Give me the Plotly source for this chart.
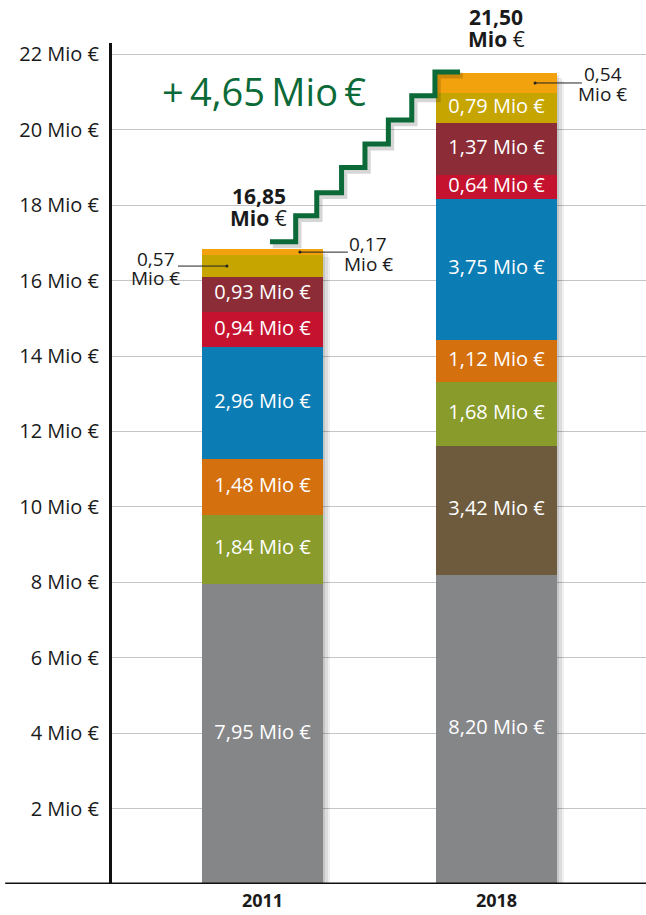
import plotly.graph_objects as go

years = ["2011", "2018"]
x_pos = [0, 1]
segment_names = ["Grau", "Braun", "Grün", "Orange", "Blau", "Rot", "Bordeaux", "Gelb", "Hellorange"]
segment_colors = ["#858688", "#6e5b3e", "#889b2b", "#d4700e", "#0b7cb4", "#c4122f", "#8b2c36", "#c6a500", "#f2a20c"]
values_2011 = [7.95, 0.0, 1.84, 1.48, 2.96, 0.94, 0.93, 0.57, 0.17]
values_2018 = [8.20, 3.42, 1.68, 1.12, 3.75, 0.64, 1.37, 0.79, 0.54]
labels_2011 = ["7,95", "", "1,84", "1,48", "2,96", "0,94", "0,93", "", ""]
labels_2018 = ["8,20", "3,42", "1,68", "1,12", "3,75", "0,64", "1,37", "0,79", ""]
totals = [16.85, 21.50]
total_labels = ["16,85", "21,50"]
increase_label = "+\u20094,65\u2009Mio\u2009€"
tick_vals = [2, 4, 6, 8, 10, 12, 14, 16, 18, 20, 22]
tick_text = [f"{v} Mio €" for v in tick_vals]
stair_x = [0.032, 0.142, 0.232, 0.338, 0.438, 0.538, 0.638, 0.737, 0.844]
stair_y = [17.03, 17.72, 18.33, 19.00, 19.62, 20.26, 20.90, 21.53, 21.53]

FONT = "Open Sans"
GREEN = "#0b6a37"
TXT = "#1a1a1a"
BAR_W = 0.517
Y_MAX = 22.3
X_RANGE = [-0.643, 1.639]

fig = go.Figure()

# soft drop shadows of the bars (base axis, drawn beneath the overlaid bars)
bar_totals = [sum(values_2011), sum(values_2018)]
for k, (dx, op) in enumerate([(0.010, 0.10), (0.020, 0.08), (0.030, 0.06)]):
    fig.add_trace(go.Bar(
        x=[xp + dx for xp in x_pos], y=[t + 0.02 for t in bar_totals], base=[-0.08 * (k + 1)] * 2,
        width=BAR_W, marker=dict(color=f"rgba(0,0,0,{op})", line=dict(width=0)),
        xaxis="x", yaxis="y", hoverinfo="skip", showlegend=False,
    ))

for i, name in enumerate(segment_names):
    vals = [values_2011[i], values_2018[i]]
    fig.add_trace(go.Bar(
        x=x_pos, y=vals, name=name, width=BAR_W,
        marker=dict(color=segment_colors[i], line=dict(width=0)),
        xaxis="x2", yaxis="y", hoverinfo="skip", showlegend=False,
    ))

# segment value labels, placed at each segment's centre
def seg_center(vals, idx):
    return sum(vals[:idx]) + vals[idx] / 2

lx, ly, lt = [], [], []
for xp, vals, labs in [(x_pos[0], values_2011, labels_2011), (x_pos[1], values_2018, labels_2018)]:
    for i, t in enumerate(labs):
        if t:
            lx.append(xp)
            ly.append(seg_center(vals, i))
            lt.append(f"{t} Mio €")
fig.add_trace(go.Scatter(
    x=lx, y=ly, text=lt, mode="text", textposition="middle center",
    textfont=dict(color="white", size=20, family=FONT),
    xaxis="x2", yaxis="y", hoverinfo="skip", showlegend=False,
))

# staircase with a faint shadow
fig.add_trace(go.Scatter(
    x=[v + 0.012 for v in stair_x], y=[v - 0.09 for v in stair_y], mode="lines",
    line=dict(color="rgba(0,0,0,0.16)", width=6, shape="hv"),
    xaxis="x2", yaxis="y", hoverinfo="skip", showlegend=False,
))
fig.add_trace(go.Scatter(
    x=stair_x, y=stair_y, mode="lines", line=dict(color=GREEN, width=5, shape="hv"),
    xaxis="x2", yaxis="y", hoverinfo="skip", showlegend=False,
))

# leader lines for small segments
leaders = [
    (-0.152, -0.361, seg_center(values_2011, 7)),
    (0.16, 0.365, seg_center(values_2011, 8)),
    (1.165, 1.365, seg_center(values_2018, 8)),
]
for xd, xt, yc in leaders:
    fig.add_trace(go.Scatter(
        x=[xd, xt], y=[yc, yc], mode="lines", line=dict(color="#222222", width=1),
        xaxis="x2", yaxis="y", hoverinfo="skip", showlegend=False,
    ))
    fig.add_trace(go.Scatter(
        x=[xd], y=[yc], mode="markers", marker=dict(color="#222222", size=3),
        xaxis="x2", yaxis="y", hoverinfo="skip", showlegend=False,
    ))

def paper_y(v):
    return v / Y_MAX

annotations = []
annotations.append(dict(x=0.109, y=totals[0] + 1.38, text=f"<b>{total_labels[0]}</b>", xanchor="right",
                        yanchor="middle", showarrow=False, font=dict(size=21, color=TXT, family=FONT)))
annotations.append(dict(x=0.112, y=totals[0] + 0.80, text="<b>Mio</b> €", xanchor="right",
                        yanchor="middle", showarrow=False, font=dict(size=21, color=TXT, family=FONT)))
annotations.append(dict(x=1.0, y=paper_y(totals[1] + 1.48), yref="paper", text=f"<b>{total_labels[1]}</b>",
                        xanchor="center", yanchor="middle", showarrow=False,
                        font=dict(size=21, color=TXT, family=FONT)))
annotations.append(dict(x=1.0, y=paper_y(totals[1] + 0.90), yref="paper", text="<b>Mio</b> €",
                        xanchor="center", yanchor="middle", showarrow=False,
                        font=dict(size=21, color=TXT, family=FONT)))
annotations.append(dict(x=0.007, y=21.02, text=increase_label, xanchor="center", yanchor="middle",
                        showarrow=False, font=dict(size=38, color=GREEN, family=FONT)))
small = [
    (-0.455, 16.56, 16.08, "0,57"),
    (0.452, 16.96, 16.43, "0,17"),
    (1.454, 21.47, 20.94, "0,54"),
]
for xc, y1, y2, t in small:
    annotations.append(dict(x=xc, y=y1, text=t, xanchor="center", yanchor="middle", showarrow=False,
                            font=dict(size=19, color=TXT, family=FONT)))
    annotations.append(dict(x=xc, y=y2, text="Mio €", xanchor="center", yanchor="middle", showarrow=False,
                            font=dict(size=19, color=TXT, family=FONT)))

fig.update_layout(
    width=646, height=915,
    margin=dict(l=112, r=0, t=43, b=31),
    paper_bgcolor="white", plot_bgcolor="white",
    barmode="stack", bargap=0,
    annotations=annotations,
    shapes=[dict(type="line", xref="paper", yref="y", x0=-0.2, x1=1, y0=0, y1=0,
                 line=dict(color="#111111", width=3), layer="above")],
    font=dict(family=FONT, color=TXT),
    xaxis=dict(range=X_RANGE, tickvals=x_pos, ticktext=[f"<b>{y}</b>" for y in years],
               tickfont=dict(size=18, color=TXT, family=FONT), showgrid=False, zeroline=False,
               showline=False, ticks="", ticklabelstandoff=4, fixedrange=True, automargin=False),
    xaxis2=dict(overlaying="x", range=X_RANGE, visible=False, fixedrange=True),
    yaxis=dict(range=[0, Y_MAX], tickvals=tick_vals, ticktext=tick_text,
               tickfont=dict(size=20, color=TXT, family=FONT), showgrid=True, gridcolor="#c4c4c4",
               gridwidth=1, zeroline=False, showline=True, linecolor="#111111", linewidth=3, ticks="",
               ticklabelstandoff=6, fixedrange=True, automargin=False),
)

fig.write_html("out.html", config={"displayModeBar": False},
               post_script="document.body.style.margin='0';document.body.style.overflow='hidden';")
